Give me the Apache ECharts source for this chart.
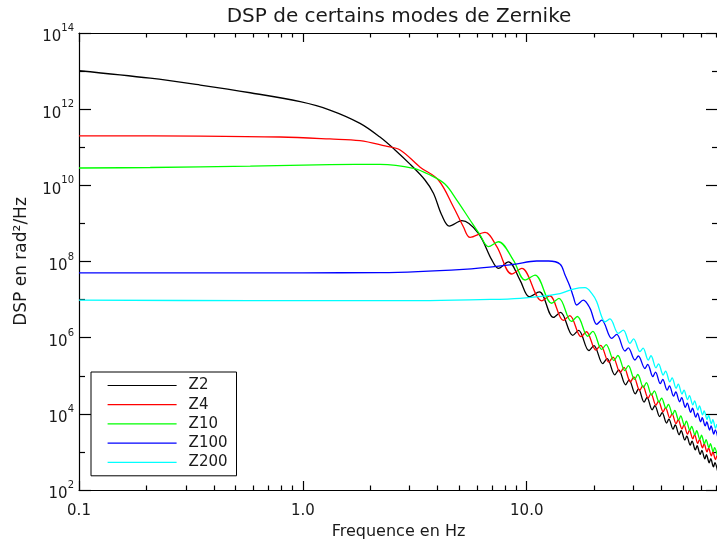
<!DOCTYPE html>
<html>
<head>
<meta charset="utf-8">
<script src="https://cdn.jsdelivr.net/npm/echarts@6/dist/echarts.min.js"></script>
<style>
html,body{margin:0;padding:0;background:#ffffff;}
#chart{width:717px;height:540px;}
</style>
</head>
<body>
<div id="chart"></div>
<script>
// ---- Text ----
const titleText = 'DSP de certains modes de Zernike';
const xAxisName = 'Frequence en Hz';
const yAxisName = 'DSP en rad\u00b2/Hz';

// ---- Ticks ----
const xMajorTicks = [0.1, 1, 10];
const xMajorLabels = ['0.1', '1.0', '10.0'];
const xMinorTicks = [0.2, 0.3, 0.4, 0.5, 0.6, 0.7, 0.8, 0.9, 2, 3, 4, 5, 6, 7, 8, 9, 20, 30, 40, 50, 60, 70];
const yMajorTicks = [1e2, 1e4, 1e6, 1e8, 1e10, 1e12, 1e14];
const yMajorExponents = ['2', '4', '6', '8', '10', '12', '14'];
const yMinorTicks = [1e3, 1e5, 1e7, 1e9, 1e11, 1e13];

// ---- Series (frequency Hz, DSP) ----
const seriesNames = ['Z2', 'Z4', 'Z10', 'Z100', 'Z200'];
const seriesColors = ['#000000', '#ff0000', '#00ff00', '#0000ff', '#00ffff'];

const z2 = [[0.1,1.02e13],[0.208,6.5e12],[0.348,4.3e12],[0.582,2.7e12],[0.973,1.57e12],[1.32,9.5e11],[1.80,4.25e11],[2.21,1.85e11],[2.58,8.5e10],[3.01,3.6e10],[3.51,1.38e10],[3.83,6.2e9],[4.17,1.66e9],[4.51,8.5e8],[5.13,1.18e9],[6.08,5.5e8],[6.98,1.1e8],[7.47,6.6e7],[8.28,9.8e7],[9.33,3.25e7],[10.27,1.19e7],[11.38,1.6e7],[13.15,3.4e6],[14.15,4.6e6],[16.05,1.15e6],[17.05,1.55e6],[18.95,4.6e5],[19.95,6.2e5],[21.85,2.09e5],[22.85,2.8e5],[24.75,1.06e5],[25.75,1.43e5],[27.65,5.8e4],[28.65,7.8e4],[30.55,3.35e4],[31.55,4.5e4],[33.45,2.03e4],[34.45,2.7e4],[36.35,1.28e4],[37.35,1.64e4],[39.25,8.45e3],[40.25,1.08e4],[42.15,5.7e3],[43.15,7.3e3],[45.05,3.97e3],[46.05,5.1e3],[47.95,2.81e3],[48.95,3.6e3],[50.85,2.04e3],[51.85,2.6e3],[53.75,1.51e3],[54.75,1.93e3],[56.65,1.13e3],[57.65,1.45e3],[59.55,860],[60.55,1100],[62.45,660],[63.45,845],[65.35,520],[66.35,665],[68.25,406],[69.25,520],[71.15,320]];

const z4 = [[0.1,2.0e11],[0.348,1.97e11],[0.792,1.86e11],[1.32,1.65e11],[1.80,1.49e11],[2.33,1.08e11],[2.72,8.5e10],[3.34,3.0e10],[4.03,1.38e10],[4.70,2.74e9],[5.21,8.2e8],[5.58,4.3e8],[6.51,5.8e8],[7.35,2.45e8],[8.57,4.7e7],[9.5,6.6e7],[11.67,9.3e6],[12.67,1.26e7],[14.57,2.84e6],[15.57,3.8e6],[17.47,1.06e6],[18.47,1.43e6],[20.37,4.7e5],[21.37,6.3e5],[23.27,2.28e5],[24.27,3.1e5],[26.17,1.22e5],[27.17,1.65e5],[29.07,6.9e4],[30.07,9.3e4],[31.97,4.1e4],[32.97,5.5e4],[34.87,2.6e4],[35.87,3.4e4],[37.77,1.68e4],[38.77,2.15e4],[40.67,1.13e4],[41.67,1.45e4],[43.57,7.8e3],[44.57,1.0e4],[46.47,5.5e3],[47.47,7.0e3],[49.37,4.0e3],[50.37,5.1e3],[52.27,2.93e3],[53.27,3.75e3],[55.17,2.21e3],[56.17,2.83e3],[58.07,1.67e3],[59.07,2.14e3],[60.97,1.28e3],[61.97,1.64e3],[63.87,1.0e3],[64.87,1.28e3],[66.77,790],[67.77,1010],[69.67,630],[70.67,805]];

const z10 = [[0.1,2.85e10],[0.208,2.94e10],[0.582,3.2e10],[1.32,3.5e10],[2.21,3.55e10],[3.12,2.8e10],[3.70,1.87e10],[4.31,1.08e10],[4.87,4.1e9],[5.58,1.23e9],[6.19,4.95e8],[6.74,2.45e8],[7.47,3.3e8],[8.71,1.09e8],[9.83,3.27e7],[10.89,4.4e7],[12.93,8.0e6],[13.93,1.08e7],[15.83,2.67e6],[16.83,3.6e6],[18.73,1.09e6],[19.73,1.47e6],[21.63,4.9e5],[22.63,6.6e5],[24.53,2.5e5],[25.53,3.4e5],[27.43,1.37e5],[28.43,1.85e5],[30.33,8.0e4],[31.33,1.08e5],[33.23,4.9e4],[34.23,6.6e4],[36.13,3.1e4],[37.13,4.0e4],[39.03,2.04e4],[40.03,2.6e4],[41.93,1.39e4],[42.93,1.78e4],[44.83,9.6e3],[45.83,1.23e4],[47.73,6.9e3],[48.73,8.8e3],[50.63,5.0e3],[51.63,6.4e3],[53.53,3.7e3],[54.53,4.7e3],[56.43,2.81e3],[57.43,3.6e3],[59.33,2.14e3],[60.33,2.74e3],[62.23,1.64e3],[63.23,2.1e3],[65.13,1.29e3],[66.13,1.65e3],[68.03,1.02e3],[69.03,1.3e3],[70.93,810]];

const z100 = [[0.1,5.0e7],[0.5,5.0e7],[1.0,5.05e7],[2.21,5.1e7],[5.2,6.2e7],[8.71,8.4e7],[11.07,1.03e8],[12.5,1.03e8],[14.1,8.5e7],[14.83,4.4e7],[15.61,2.18e7],[16.15,1.19e7],[16.72,7.2e6],[17.89,9.7e6],[19.17,5.9e6],[20.54,2.24e6],[21.62,2.9e6],[23.97,9.6e5],[25.22,1.22e6],[27.47,4.46e5],[28.42,5.4e5],[30.44,2.59e5],[31.5,3.3e5],[33.74,1.55e5],[34.7,2.0e5],[36.6,9.5e4],[37.6,1.25e5],[39.5,6.2e4],[40.5,8.0e4],[42.4,4.2e4],[43.4,5.4e4],[45.3,2.92e4],[46.3,3.75e4],[48.2,2.07e4],[49.2,2.65e4],[51.1,1.49e4],[52.1,1.9e4],[54.0,1.1e4],[55.0,1.4e4],[56.9,8.2e3],[57.9,1.05e4],[59.8,6.2e3],[60.8,7.9e3],[62.7,4.8e3],[63.7,6.1e3],[65.6,3.76e3],[66.6,4.8e3],[68.5,2.95e3],[69.5,3.8e3],[71.4,2.36e3]];

const z200 = [[0.1,9.7e6],[0.582,9.4e6],[3.34,9.4e6],[6.19,1.0e7],[9.33,1.08e7],[14.08,1.44e7],[16.15,1.89e7],[18.21,2.05e7],[19.51,1.46e7],[20.54,8.8e6],[21.62,3.55e6],[22.37,2.62e6],[23.54,3.1e6],[25.64,1.3e6],[27.0,1.58e6],[28.9,7.1e5],[30.0,9.3e5],[32.05,4.3e5],[33.1,5.3e5],[34.9,2.59e5],[35.9,3.35e5],[37.8,1.61e5],[38.8,2.06e5],[40.7,1.04e5],[41.7,1.33e5],[43.6,6.9e4],[44.6,8.8e4],[46.5,4.7e4],[47.5,6.0e4],[49.4,3.3e4],[50.4,4.2e4],[52.3,2.35e4],[53.3,3.0e4],[55.2,1.71e4],[56.2,2.2e4],[58.1,1.26e4],[59.1,1.61e4],[61.0,9.4e3],[62.0,1.2e4],[63.9,7.1e3],[64.9,9.1e3],[66.8,5.5e3],[67.8,7.0e3],[69.7,4.2e3],[70.7,5.4e3]];

const seriesData = [z2, z4, z10, z100, z200];

// ---- Layout / style ----
const FONT = 'DejaVu Sans';
const TXT = '#1a1a1a';
const AX = '#000000';
const X_MIN = 0.1, X_MAX = 71.5, Y_MIN = 1e2, Y_MAX = 1e14;

function findIdx(arr, v) {
  for (let i = 0; i < arr.length; i++) {
    if (Math.abs(arr[i] - v) / arr[i] < 1e-6) return i;
  }
  return -1;
}

function xAxisCfg(pos, ticks, len, showLine, showLabels) {
  const cfg = {
    type: 'log', logBase: 10, min: X_MIN, max: X_MAX, position: pos, gridIndex: 0,
    axisLine: { show: showLine, onZero: false, lineStyle: { color: AX, width: 1.2 } },
    axisTick: { show: true, inside: true, length: len, customValues: ticks, lineStyle: { color: AX, width: 1.2 } },
    axisLabel: { show: false },
    splitLine: { show: false },
    minorTick: { show: false }
  };
  if (showLabels) {
    cfg.axisLabel = {
      show: true, customValues: xMajorTicks, margin: 14,
      fontFamily: FONT, fontSize: 15, color: TXT,
      formatter: function (v) { const i = findIdx(xMajorTicks, v); return i >= 0 ? xMajorLabels[i] : ''; }
    };
    cfg.name = xAxisName;
    cfg.nameLocation = 'middle';
    cfg.nameGap = 27;
    cfg.nameTextStyle = { fontFamily: FONT, fontSize: 16, color: TXT };
  }
  return cfg;
}

function yAxisCfg(pos, ticks, len, showLine, showLabels) {
  const cfg = {
    type: 'log', logBase: 10, min: Y_MIN, max: Y_MAX, position: pos, gridIndex: 0,
    axisLine: { show: showLine, onZero: false, lineStyle: { color: AX, width: 1.2 } },
    axisTick: { show: true, inside: true, length: len, customValues: ticks, lineStyle: { color: AX, width: 1.2 } },
    axisLabel: { show: false },
    splitLine: { show: false },
    minorTick: { show: false }
  };
  if (showLabels) {
    cfg.axisLabel = {
      show: true, customValues: yMajorTicks, margin: 5,
      fontFamily: FONT, color: TXT,
      formatter: function (v) { const i = findIdx(yMajorTicks, v); return i >= 0 ? '{b|10}{s|' + yMajorExponents[i] + '}' : ''; },
      rich: {
        b: { fontFamily: FONT, fontSize: 15, color: TXT, padding: [9, 0, 0, 0] },
        s: { fontFamily: FONT, fontSize: 10, color: TXT, padding: [0, 0, 9, 0] }
      }
    };
    cfg.name = yAxisName;
    cfg.nameLocation = 'middle';
    cfg.nameGap = 49;
    cfg.nameTextStyle = { fontFamily: FONT, fontSize: 17, color: TXT };
  }
  return cfg;
}

const series = seriesNames.map(function (name, i) {
  return {
    name: name, type: 'line', xAxisIndex: 0, yAxisIndex: 0,
    data: seriesData[i], showSymbol: false, symbol: 'none', smooth: 0.35,
    lineStyle: { color: seriesColors[i], width: 1.3 },
    itemStyle: { color: seriesColors[i] },
    clip: true, animation: false, z: 3
  };
});

const option = {
  animation: false,
  backgroundColor: '#ffffff',
  grid: { left: 79, right: -1, top: 33, bottom: 50, containLabel: false, outerBoundsMode: 'none' },
  graphic: [{
    type: 'text', x: 399, y: 17,
    style: { text: titleText, font: '20px "' + FONT + '"', fill: TXT, align: 'center', verticalAlign: 'middle', textAlign: 'center', textVerticalAlign: 'middle' }
  }],
  xAxis: [
    xAxisCfg('bottom', xMajorTicks, 9, true, true),
    xAxisCfg('bottom', xMinorTicks, 4.5, false, false),
    xAxisCfg('top', xMajorTicks, 9, true, false),
    xAxisCfg('top', xMinorTicks, 4.5, false, false)
  ],
  yAxis: [
    yAxisCfg('left', yMajorTicks, 12, true, true),
    yAxisCfg('left', yMinorTicks, 6, false, false),
    yAxisCfg('right', yMajorTicks, 12, true, false),
    yAxisCfg('right', yMinorTicks, 6, false, false)
  ],
  legend: {
    data: seriesNames, orient: 'vertical', left: 91, top: 372,
    padding: [6, 9, 6, 16], itemWidth: 69, itemHeight: 14, itemGap: 4.2,
    borderColor: '#000000', borderWidth: 1, borderRadius: 0,
    itemStyle: { opacity: 0 },
    lineStyle: { width: 1.2 },
    textStyle: { fontFamily: FONT, fontSize: 15, color: TXT, padding: [0, 0, 0, 7] },
    selectedMode: false
  },
  series: series
};

const chart = echarts.init(document.getElementById('chart'), null, { renderer: 'canvas' });
chart.setOption(option);
</script>
</body>
</html>
